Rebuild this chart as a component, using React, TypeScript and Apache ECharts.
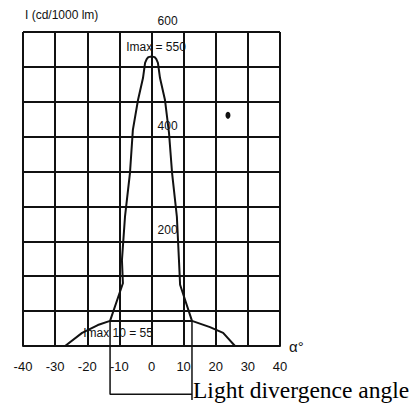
import React, { useEffect, useRef } from "react";
import * as echarts from "echarts";

// Tick labels of the angle axis (degrees)
const angleTicks = [-40, -30, -20, -10, 0, 10, 20, 30, 40];
// Intensity labels printed on the chart
const intensityLabels = [600, 400, 200];

// Main (narrow) beam curve: angle (deg) vs intensity (cd/1000 lm)
const narrowAngles = [-12.9, -8.9, -9.2, -8.25, -6.7, -5.8, -4.2, -2.65, -2.0, -1.5, -1.0, 0, 1.0, 1.5, 2.0, 2.65, 4.2, 5.45, 6.4, 7.9, 8.55, 8.9, 12.6];
const narrowValues = [48, 120, 164, 247, 331, 413, 470, 512, 541, 548, 552, 553, 552, 548, 541, 512, 470, 407, 331, 247, 164, 117, 48];

// Wide (spill) curve
const wideAngles = [-26.9, -21.6, -16.7, -12.9, 12.6, 18.2, 22.3, 26.0];
const wideValues = [0, 25, 40, 48, 48, 36, 25, 0];

// Divergence-angle bracket (extends below the axis)
const bracketLeftAngles = [-12.9, -12.9, 12.6];
const bracketLeftValues = [48, -92, -92];
const bracketRightAngles = [12.6, 12.6];
const bracketRightValues = [48, -103];

// Small blot on the original scan
const dotAngles = [23.8];
const dotValues = [441];

const zip = (a: number[], b: number[]) => a.map((x, i) => [x, b[i]]);

export default function App() {
  const ref = useRef<HTMLDivElement>(null);
  useEffect(() => {
    if (!ref.current) return;
    const chart = echarts.init(ref.current, null, { renderer: "svg" });
    const ink = "#111";
    const font = "Liberation Sans";
    const lineStyle = { color: ink, width: 2 };
    chart.setOption({
      animation: false,
      backgroundColor: "#fff",
      color: [ink],
      grid: { left: 23, top: 32, width: 257, height: 314 },
      xAxis: {
        type: "value",
        min: angleTicks[0],
        max: angleTicks[angleTicks.length - 1],
        interval: 10,
        name: "α°",
        nameLocation: "end",
        nameGap: 9,
        nameTextStyle: { color: ink, fontSize: 15, fontFamily: font, verticalAlign: "middle" },
        axisLine: { show: true, onZero: false, lineStyle },
        axisTick: { show: false },
        axisLabel: { color: ink, fontSize: 13, fontFamily: font, margin: 14 },
        splitLine: { show: true, lineStyle },
      },
      yAxis: {
        type: "value",
        min: 0,
        max: 600,
        interval: 200 / 3,
        name: "I (cd/1000 lm)",
        nameLocation: "end",
        nameGap: 17,
        nameTextStyle: { color: ink, fontSize: 12, fontFamily: font, align: "left", verticalAlign: "middle", padding: [0, 0, 0, 2] },
        axisLine: { show: false, onZero: false },
        axisTick: { show: false },
        axisLabel: { show: false },
        splitLine: { show: true, lineStyle },
      },
      series: [
        {
          type: "line",
          data: zip(narrowAngles, narrowValues),
          symbol: "none",
          lineStyle,
          itemStyle: { color: ink },
          markPoint: {
            symbol: "circle",
            symbolSize: 0,
            itemStyle: { color: ink },
            data: [
              {
                coord: [1.4, 550],
                value: "Imax = 550",
                label: { show: true, position: "top", distance: 5, formatter: "Imax = 550", color: ink, fontSize: 12, fontFamily: font },
              },
              {
                coord: [-10.4, 25],
                value: "Imax 10 = 55",
                label: { show: true, position: "inside", formatter: "Imax 10 = 55", color: ink, fontSize: 12, fontFamily: font, textBorderWidth: 0 },
              },
            ],
          },
        },
        { type: "line", data: zip(wideAngles, wideValues), symbol: "none", lineStyle, itemStyle: { color: ink } },
        { type: "line", data: zip(bracketLeftAngles, bracketLeftValues), symbol: "none", lineStyle: { color: ink, width: 1.5 }, itemStyle: { color: ink }, clip: false },
        { type: "line", data: zip(bracketRightAngles, bracketRightValues), symbol: "none", lineStyle: { color: ink, width: 1.5 }, itemStyle: { color: ink }, clip: false },
        {
          type: "scatter",
          data: intensityLabels.map((v) => [5, v]),
          symbolSize: 0,
          itemStyle: { color: ink, opacity: 1 },
          label: { show: true, position: "top", distance: 5, formatter: (p: any) => String(p.value[1]), color: ink, fontSize: 12, fontFamily: font, opacity: 1 },
        },
        { type: "scatter", data: zip(dotAngles, dotValues), symbol: "circle", symbolSize: [5, 7], itemStyle: { color: ink, opacity: 1 } },
      ],
      graphic: [
        {
          type: "text",
          left: 193,
          top: 378,
          style: { text: "Light divergence angle", fill: "#000", fontSize: 23.5, fontFamily: "Liberation Serif" },
        },
      ],
    });
    return () => chart.dispose();
  }, []);
  return <div ref={ref} style={{ position: "fixed", left: 0, top: 0, width: 413, height: 404 }} />;
}
